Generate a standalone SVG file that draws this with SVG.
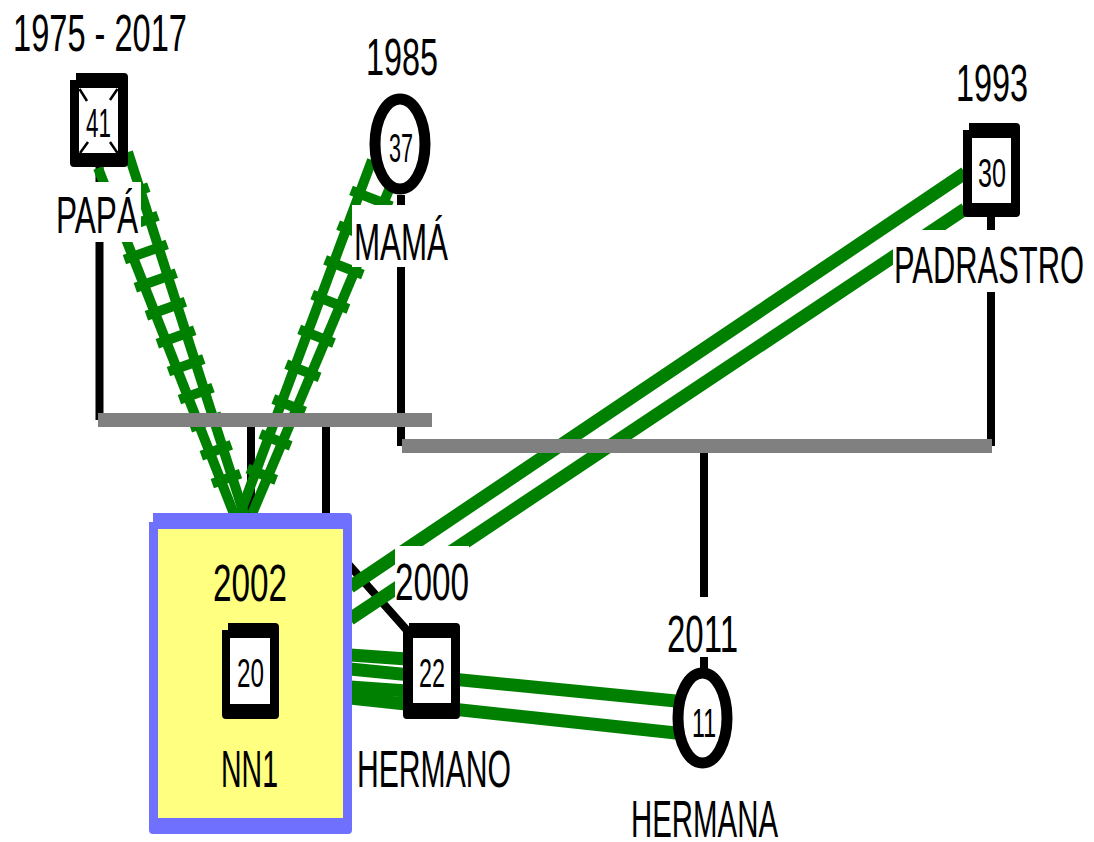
<svg xmlns="http://www.w3.org/2000/svg" width="1094" height="842" viewBox="0 0 1094 842">
<style>
.blk{stroke:#000;stroke-width:8;fill:none}
.bar{fill:#808080}
.rail{stroke:#008000;stroke-width:10;fill:none}
.rung{stroke:#008000;stroke-width:10;fill:none}
.gl{stroke:#008000;stroke-width:13;fill:none}
.box{fill:#000}
.inner{fill:#fff}
.ell{fill:#fff;stroke:#000;stroke-width:11}
.t{font-family:"Liberation Sans",Arial,sans-serif;font-size:51px;fill:#000}
.n{font-family:"Liberation Sans",Arial,sans-serif;font-size:40px;fill:#000}
.bg{fill:#fff}
</style>
<rect width="1094" height="842" fill="#fff"/>
<g id="connectors">
  <line class="blk" x1="99.5" y1="167" x2="99.5" y2="420"/>
  <line class="blk" x1="401" y1="195" x2="401" y2="446"/>
  <line class="blk" x1="991" y1="217" x2="991" y2="446"/>
  <line class="blk" x1="704" y1="453" x2="704" y2="672"/>
  <line class="blk" x1="251" y1="427" x2="251" y2="516"/>
  <polyline class="blk" stroke-width="9" points="326,427 326,539 412,636"/>
  <line class="rail" x1="98" y1="168" x2="234" y2="514"/>
  <line class="rail" x1="128" y1="152" x2="244" y2="514"/>
  <path class="rung" d="M102.4,203.7L148.8,187.1M113.4,231.7L158,215.7M124.4,259.6L167.2,244.4M135.3,287.7L176.3,273.1M146.4,315.7L185.4,301.7M157.3,343.7L194.7,330.3M168.4,371.6L203.8,359M179.4,399.6L213,387.6M190.3,427.7L222.1,416.3M201.3,455.7L231.3,444.9M212.3,483.6L240.5,473.6"/>
  <line class="rail" x1="372" y1="160" x2="240" y2="514"/>
  <line class="rail" x1="394" y1="178" x2="252" y2="514"/>
  <path class="rung" d="M351,190.3L391.8,206.3M338.1,225.1L377.3,240.5M325.1,259.9L362.9,274.7M312.2,294.6L348.4,309M299.2,329.4L334,343.2M286.2,364.2L319.6,377.4M273.3,399L305.1,411.6M260.3,433.8L290.7,445.8M247.4,468.6L276.2,480"/>
  <line class="gl" x1="350" y1="587" x2="965" y2="173"/>
  <line class="gl" x1="350" y1="619" x2="965" y2="209"/>
  <line class="gl" x1="350" y1="655" x2="407" y2="659"/>
  <line class="gl" x1="350" y1="687" x2="407" y2="691"/>
  <line class="gl" x1="350" y1="669" x2="676" y2="701"/>
  <line class="gl" x1="350" y1="698" x2="676" y2="733"/>
  <rect class="bar" x="98" y="413" width="334" height="14"/>
  <rect class="bar" x="402" y="439" width="590" height="14"/>
</g>
<g id="papa">
  <path class="box" d="M76,73H124Q128,73 128,77V163Q128,167 124,167H74Q70,167 70,163V80H76Z"/>
  <rect class="inner" x="79" y="88" width="39" height="65"/>
  <path d="M79.5,89L87,101M117.5,89L110,100M80,153L88,142M117.5,153L110,142" stroke="#000" stroke-width="2.5"/>
  <text class="n" x="86" y="137" textLength="25" lengthAdjust="spacingAndGlyphs">41</text>
  <text class="t" x="13" y="51" textLength="174" lengthAdjust="spacingAndGlyphs">1975 - 2017</text>
  <rect class="bg" x="55" y="182" width="86" height="60"/>
  <text class="t" x="56" y="233" textLength="82" lengthAdjust="spacingAndGlyphs">PAPÁ</text>
</g>
<g id="mama">
  <ellipse class="ell" cx="400" cy="144" rx="25" ry="45"/>
  <text class="n" x="389" y="162" textLength="24" lengthAdjust="spacingAndGlyphs">37</text>
  <text class="t" x="366" y="75" textLength="72" lengthAdjust="spacingAndGlyphs">1985</text>
  <rect class="bg" x="352" y="205" width="98" height="62"/>
  <text class="t" x="354" y="260" textLength="94" lengthAdjust="spacingAndGlyphs">MAMÁ</text>
</g>
<g id="padrastro">
  <path class="box" d="M969,123H1016Q1020,123 1020,127V213Q1020,217 1016,217H967Q963,217 963,213V130H969Z"/>
  <rect class="inner" x="972" y="138" width="39" height="65"/>
  <text class="n" x="978" y="187" textLength="28" lengthAdjust="spacingAndGlyphs">30</text>
  <text class="t" x="956" y="101" textLength="72" lengthAdjust="spacingAndGlyphs">1993</text>
  <rect class="bg" x="893" y="230" width="195" height="62"/>
  <text class="t" x="894" y="283" textLength="190" lengthAdjust="spacingAndGlyphs">PADRASTRO</text>
</g>
<g id="nn1">
  <path d="M153,513H348Q352,513 352,517V830Q352,834 348,834H153Q149,834 149,830V522H153Z" fill="#7070FF"/>
  <rect x="158" y="529" width="185" height="289" fill="#FFFF80"/>
  <path class="box" d="M228,623H275Q279,623 279,627V715Q279,719 275,719H226Q222,719 222,715V630H228Z"/>
  <rect class="inner" x="230" y="638" width="40" height="66"/>
  <text class="n" x="237" y="687" textLength="27" lengthAdjust="spacingAndGlyphs">20</text>
  <text class="t" x="213" y="601" textLength="74" lengthAdjust="spacingAndGlyphs">2002</text>
  <text class="t" x="221" y="787" textLength="57" lengthAdjust="spacingAndGlyphs">NN1</text>
</g>
<g id="hermano">
  <path class="box" d="M409,623H456Q460,623 460,627V715Q460,719 456,719H407Q403,719 403,715V630H409Z"/>
  <rect class="inner" x="413" y="638" width="38" height="65"/>
  <text class="n" x="419" y="687" textLength="26" lengthAdjust="spacingAndGlyphs">22</text>
  <rect class="bg" x="395" y="546" width="74" height="60"/>
  <text class="t" x="395" y="600" textLength="74" lengthAdjust="spacingAndGlyphs">2000</text>
  <text class="t" x="357" y="787" textLength="154" lengthAdjust="spacingAndGlyphs">HERMANO</text>
</g>
<g id="hermana">
  <ellipse class="ell" cx="702.5" cy="718" rx="24.5" ry="45"/>
  <text class="n" x="692" y="737" textLength="24" lengthAdjust="spacingAndGlyphs">11</text>
  <rect class="bg" x="665" y="597" width="76" height="60"/>
  <text class="t" x="667" y="652" textLength="71" lengthAdjust="spacingAndGlyphs">2011</text>
  <text class="t" x="631" y="837" textLength="147" lengthAdjust="spacingAndGlyphs">HERMANA</text>
</g>
</svg>
